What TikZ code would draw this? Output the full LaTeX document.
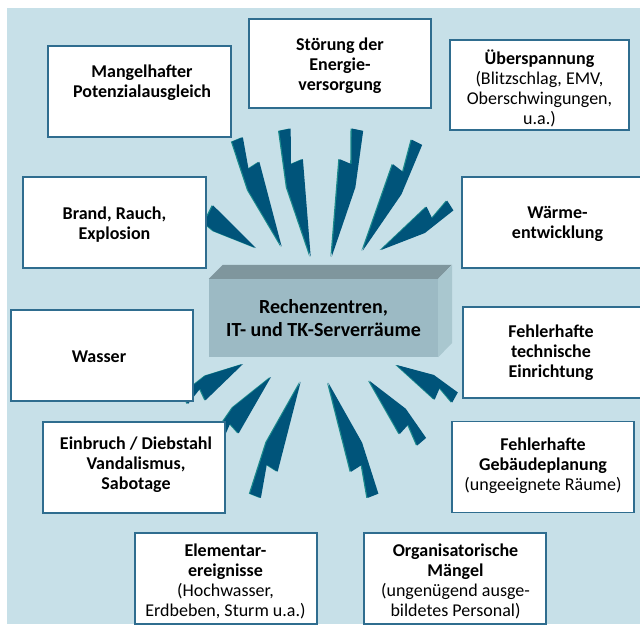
\documentclass[tikz,border=0pt]{standalone}
\usepackage{fontspec}
\setmainfont{Carlito}
\usetikzlibrary{calc}

\definecolor{hgrund}{HTML}{C7E0E8}
\definecolor{rahmen}{HTML}{2F6D8F}
\definecolor{blitzblau}{HTML}{00547A}
\definecolor{blitzrand}{HTML}{1B8A8C}
\definecolor{quaderfront}{HTML}{9CBAC4}
\definecolor{quaderdeckel}{HTML}{7F969D}
\definecolor{quaderseite}{HTML}{A9C7CF}

% Blitz: aeusseres Ende, Spitze, Seite des Knicks (90 oder -90)
\newcommand{\blitz}[3]{%
  \foreach \farbe/\dx in {blitzrand/-1.3, blitzblau/0} {
    \coordinate (bo) at ($#1+(\dx,0)$);
    \coordinate (bt) at ($#2+(\dx,0)$);
    \coordinate (b25) at ($(bo)!0.25!(bt)$);
    \coordinate (b27) at ($(bo)!0.27!(bt)$);
    \coordinate (b44) at ($(bo)!0.44!(bt)$);
    \fill[\farbe] ($(bo)!-5.8pt!#3:(bt)$) -- ($(bo)!5.8pt!#3:(bt)$)
      -- ($(b27)!-1pt!#3:(bt)$) -- ($(b25)!11.7pt!#3:(bt)$)
      -- (bt) -- ($(b44)!-9.4pt!#3:(bt)$) -- cycle;
  }}

\begin{document}
\begin{tikzpicture}[x=1pt,y=-1pt,
    risiko/.style={draw=rahmen, line width=1.1pt, fill=white,
      minimum width=182pt, minimum height=91pt, inner sep=0pt},
    rtext/.style={align=center, inner sep=0pt, font=\fontsize{18}{20}\selectfont},
    rfett/.style={rtext, font=\fontsize{18}{20}\selectfont\bfseries},
    quader/.style={fill=quaderfront, minimum width=229pt, minimum height=78pt,
      align=center, font=\fontsize{20}{23}\selectfont\bfseries}]
  \useasboundingbox (0,0) rectangle (640,624);
  \clip (0,0) rectangle (640,624);
  \fill[hgrund] (7,8) rectangle (640,624);

  % Blitze oben
  \blitz{(190,204)}{(256,248)}{90}
  \blitz{(237.5,139.5)}{(281.7,246.7)}{90}
  \blitz{(285,129.7)}{(310.7,256.7)}{90}
  \blitz{(357.5,129.7)}{(331.7,256.7)}{-90}
  \blitz{(417,142.3)}{(362.7,250.7)}{-90}
  \blitz{(450.3,205.5)}{(381,250)}{-90}
  % Blitze unten
  \blitz{(185,399)}{(243,364)}{-90}
  \blitz{(216,442)}{(271,377)}{-90}
  \blitz{(255.5,495.8)}{(300.7,381.7)}{-90}
  \blitz{(373,495.8)}{(328.3,382.7)}{90}
  \blitz{(421.7,441.7)}{(369.3,380.7)}{90}
  \blitz{(455,397.5)}{(396.7,365)}{90}

  % Quader in der Mitte
  \node[quader] (rz) at (323.5,318) {Rechenzentren,\\IT- und TK-Serverräume};
  \fill[quaderdeckel] (rz.north west) -- ++(14,-14) -- ++(229,0) -- (rz.north east) -- cycle;
  \fill[quaderseite] (rz.north east) -- ++(14,-14) -- ++(0,78) -- (rz.south east) -- cycle;

  % Gefaehrdungen
  \node[risiko, minimum width=183pt] (mangel) at (139.5,91.5) {};
  \node[rfett] (mangel-t) at (142,83) {Mangelhafter\\Potenzialausgleich};
  \node[risiko, minimum height=89pt] (stoer) at (340,63.5) {};
  \node[rfett] (stoer-t) at (340,66) {Störung der\\Energie-\\versorgung};
  \node[risiko, minimum width=179pt, minimum height=90pt] (ueber) at (539.5,85) {};
  \node[rtext] (ueber-t) at (539.5,88) {\textbf{Überspannung}\\(Blitzschlag, EMV,\\Oberschwingungen,\\u.a.)};
  \node[risiko, minimum width=183pt] (brand) at (114.5,222.5) {};
  \node[rfett] (brand-t) at (114.5,224.5) {Brand, Rauch,\\Explosion};
  \node[risiko] (waerme) at (553,222.5) {};
  \node[rfett] (waerme-t) at (557.5,224) {Wärme-\\entwicklung};
  \node[risiko] (wasser) at (102,355.5) {};
  \node[rfett] (wasser-t) at (99,357) {Wasser};
  \node[risiko] (technik) at (554,352.5) {};
  \node[rfett] (technik-t) at (551,353) {Fehlerhafte\\technische\\Einrichtung};
  \node[risiko] (einbruch) at (134,467.5) {};
  \node[rfett] (einbruch-t) at (136,465) {Einbruch / Diebstahl\\Vandalismus,\\Sabotage};
  \node[risiko] (gebaeude) at (543,467) {};
  \node[rtext] (gebaeude-t) at (543,466) {\textbf{Fehlerhafte}\\\textbf{Gebäudeplanung}\\(ungeeignete Räume)};
  \node[risiko] (element) at (226,578.5) {};
  \node[rtext] (element-t) at (225.5,581) {\textbf{Elementar-}\\\textbf{ereignisse}\\(Hochwasser,\\Erdbeben, Sturm u.a.)};
  \node[risiko] (orga) at (455,578.5) {};
  \node[rtext] (orga-t) at (455.5,581) {\textbf{Organisatorische}\\\textbf{Mängel}\\(ungenügend ausge-\\bildetes Personal)};
\end{tikzpicture}
\end{document}
